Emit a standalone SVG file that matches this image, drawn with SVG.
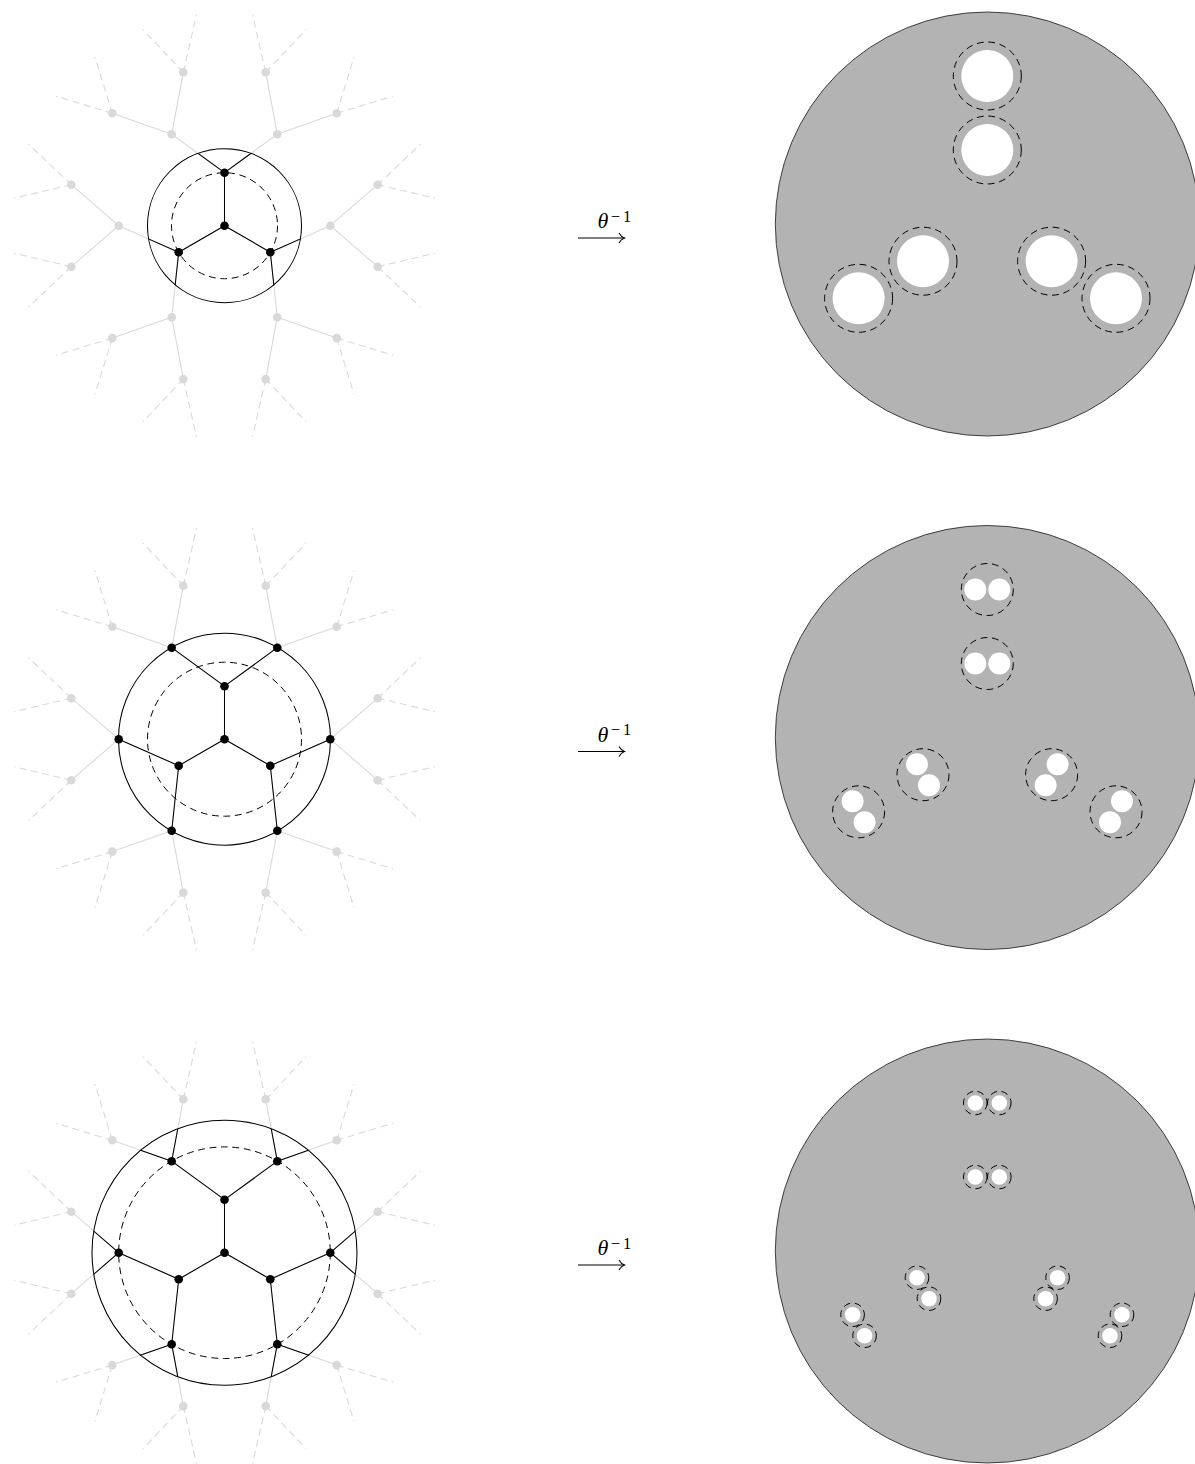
<svg xmlns="http://www.w3.org/2000/svg" width="1195" height="1464" viewBox="0 0 1195 1464">
<style>
.g{fill:none;stroke:#d9d9d9;stroke-width:1.1}
.gd{fill:none;stroke:#d9d9d9;stroke-width:1.1;stroke-dasharray:7 4.5}
.b{fill:none;stroke:#000;stroke-width:1.05}
.o{fill:none;stroke:#000;stroke-width:1.05}
.d{fill:none;stroke:#000;stroke-width:1;stroke-dasharray:6.8 4.7}
.ng{fill:#d9d9d9}
.nb{fill:#000}
.disk{fill:#b3b3b3;stroke:#000;stroke-width:.7}
.hole{fill:#fff}
.t{font-family:"Liberation Serif",serif;fill:#000}
.ar{fill:none;stroke:#000;stroke-width:1.05}
</style>
<defs>
<path id="solid" class="g" d="M0,0V-53M0,0L-45.8,26.5M0,0L45.8,26.5M0,-53L-52.8,-91.5M0,-53L52.8,-91.5M-45.8,26.5L-105.8,0M-45.8,26.5L-52.8,91.5M45.8,26.5L105.8,0M45.8,26.5L52.8,91.5M-52.8,-91.5L-112.2,-112.4M-52.8,-91.5L-41.2,-153.4M52.8,-91.5L112.2,-112.4M52.8,-91.5L41.2,-153.4M-105.8,0L-153.2,-41M-105.8,0L-153.2,41M105.8,0L153.2,-41M105.8,0L153.2,41M-52.8,91.5L-112.2,112.4M-52.8,91.5L-41.2,153.4M52.8,91.5L112.2,112.4M52.8,91.5L41.2,153.4"/>
<path id="solidb" class="b" d="M0,0V-53M0,0L-45.8,26.5M0,0L45.8,26.5M0,-53L-52.8,-91.5M0,-53L52.8,-91.5M-45.8,26.5L-105.8,0M-45.8,26.5L-52.8,91.5M45.8,26.5L105.8,0M45.8,26.5L52.8,91.5M-52.8,-91.5L-112.2,-112.4M-52.8,-91.5L-41.2,-153.4M52.8,-91.5L112.2,-112.4M52.8,-91.5L41.2,-153.4M-105.8,0L-153.2,-41M-105.8,0L-153.2,41M105.8,0L153.2,-41M105.8,0L153.2,41M-52.8,91.5L-112.2,112.4M-52.8,91.5L-41.2,153.4M52.8,91.5L112.2,112.4M52.8,91.5L41.2,153.4"/>
<path id="dash" class="gd" d="M-41.2,-153.4L-28,-211M-41.2,-153.4L-81.5,-196M-112.2,-112.4L-129.5,-168.5M-112.2,-112.4L-168.5,-129.5M-153.2,-41L-196,-81.5M-153.2,-41L-210.5,-27.5M-153.2,41L-210.5,27.5M-153.2,41L-196,81.5M-112.2,112.4L-168.5,129.5M-112.2,112.4L-129.5,168.5M-41.2,153.4L-81.5,196M-41.2,153.4L-28,211M41.2,-153.4L28,-211M41.2,-153.4L81.5,-196M112.2,-112.4L129.5,-168.5M112.2,-112.4L168.5,-129.5M153.2,-41L196,-81.5M153.2,-41L210.5,-27.5M153.2,41L210.5,27.5M153.2,41L196,81.5M112.2,112.4L168.5,129.5M112.2,112.4L129.5,168.5M41.2,153.4L81.5,196M41.2,153.4L28,211"/>
<clipPath id="c1"><circle r="77"/></clipPath>
<clipPath id="c2"><circle r="106"/></clipPath>
<clipPath id="c3"><circle r="132.5"/></clipPath>
<circle id="nd" r="4.3"/>
<marker id="tip" markerUnits="userSpaceOnUse" markerWidth="12" markerHeight="14" refX="6.5" refY="6" orient="auto" overflow="visible"><path class="ar" d="M1,1Q3,4.8 6.5,6Q3,7.2 1,11"/></marker>
</defs>

<g id="panel1" transform="translate(224.5,225.7)">
<g id="connectors1">
<use href="#dash"/><use href="#solid"/>
<use href="#solidb" clip-path="url(#c1)"/>
</g>
<circle id="outer1" class="o" r="77"/>
<circle id="inner1" class="d" r="53"/>
<g id="p1n0"><use href="#nd" class="nb"/></g>
<g id="p1a1"><use href="#nd" class="nb" y="-53"/></g>
<g id="p1a2"><use href="#nd" class="nb" x="-45.8" y="26.5"/></g>
<g id="p1a3"><use href="#nd" class="nb" x="45.8" y="26.5"/></g>
<g id="p1b1"><use href="#nd" class="ng" x="-52.8" y="-91.5"/></g>
<g id="p1b2"><use href="#nd" class="ng" x="52.8" y="-91.5"/></g>
<g id="p1b3"><use href="#nd" class="ng" x="-105.8"/></g>
<g id="p1b4"><use href="#nd" class="ng" x="105.8"/></g>
<g id="p1b5"><use href="#nd" class="ng" x="-52.8" y="91.5"/></g>
<g id="p1b6"><use href="#nd" class="ng" x="52.8" y="91.5"/></g>
<g id="p1c1"><use href="#nd" class="ng" x="-41.2" y="-153.4"/></g>
<g id="p1c2"><use href="#nd" class="ng" x="41.2" y="-153.4"/></g>
<g id="p1c3"><use href="#nd" class="ng" x="-112.2" y="-112.4"/></g>
<g id="p1c4"><use href="#nd" class="ng" x="112.2" y="-112.4"/></g>
<g id="p1c5"><use href="#nd" class="ng" x="-153.2" y="-41"/></g>
<g id="p1c6"><use href="#nd" class="ng" x="153.2" y="-41"/></g>
<g id="p1c7"><use href="#nd" class="ng" x="-153.2" y="41"/></g>
<g id="p1c8"><use href="#nd" class="ng" x="153.2" y="41"/></g>
<g id="p1c9"><use href="#nd" class="ng" x="-112.2" y="112.4"/></g>
<g id="p1c10"><use href="#nd" class="ng" x="112.2" y="112.4"/></g>
<g id="p1c11"><use href="#nd" class="ng" x="-41.2" y="153.4"/></g>
<g id="p1c12"><use href="#nd" class="ng" x="41.2" y="153.4"/></g>
</g>

<g id="panel2" transform="translate(224.5,739.2)">
<g id="connectors2">
<use href="#dash"/><use href="#solid"/>
<use href="#solidb" clip-path="url(#c2)"/>
</g>
<circle id="outer2" class="o" r="106"/>
<circle id="inner2" class="d" r="77"/>
<g id="p2n0"><use href="#nd" class="nb"/></g>
<g id="p2a1"><use href="#nd" class="nb" y="-53"/></g>
<g id="p2a2"><use href="#nd" class="nb" x="-45.8" y="26.5"/></g>
<g id="p2a3"><use href="#nd" class="nb" x="45.8" y="26.5"/></g>
<g id="p2b1"><use href="#nd" class="nb" x="-52.8" y="-91.5"/></g>
<g id="p2b2"><use href="#nd" class="nb" x="52.8" y="-91.5"/></g>
<g id="p2b3"><use href="#nd" class="nb" x="-105.8"/></g>
<g id="p2b4"><use href="#nd" class="nb" x="105.8"/></g>
<g id="p2b5"><use href="#nd" class="nb" x="-52.8" y="91.5"/></g>
<g id="p2b6"><use href="#nd" class="nb" x="52.8" y="91.5"/></g>
<g id="p2c1"><use href="#nd" class="ng" x="-41.2" y="-153.4"/></g>
<g id="p2c2"><use href="#nd" class="ng" x="41.2" y="-153.4"/></g>
<g id="p2c3"><use href="#nd" class="ng" x="-112.2" y="-112.4"/></g>
<g id="p2c4"><use href="#nd" class="ng" x="112.2" y="-112.4"/></g>
<g id="p2c5"><use href="#nd" class="ng" x="-153.2" y="-41"/></g>
<g id="p2c6"><use href="#nd" class="ng" x="153.2" y="-41"/></g>
<g id="p2c7"><use href="#nd" class="ng" x="-153.2" y="41"/></g>
<g id="p2c8"><use href="#nd" class="ng" x="153.2" y="41"/></g>
<g id="p2c9"><use href="#nd" class="ng" x="-112.2" y="112.4"/></g>
<g id="p2c10"><use href="#nd" class="ng" x="112.2" y="112.4"/></g>
<g id="p2c11"><use href="#nd" class="ng" x="-41.2" y="153.4"/></g>
<g id="p2c12"><use href="#nd" class="ng" x="41.2" y="153.4"/></g>
</g>

<g id="panel3" transform="translate(224.5,1252.7)">
<g id="connectors3">
<use href="#dash"/><use href="#solid"/>
<use href="#solidb" clip-path="url(#c3)"/>
</g>
<circle id="outer3" class="o" r="132.5"/>
<circle id="inner3" class="d" r="105.8"/>
<g id="p3n0"><use href="#nd" class="nb"/></g>
<g id="p3a1"><use href="#nd" class="nb" y="-53"/></g>
<g id="p3a2"><use href="#nd" class="nb" x="-45.8" y="26.5"/></g>
<g id="p3a3"><use href="#nd" class="nb" x="45.8" y="26.5"/></g>
<g id="p3b1"><use href="#nd" class="nb" x="-52.8" y="-91.5"/></g>
<g id="p3b2"><use href="#nd" class="nb" x="52.8" y="-91.5"/></g>
<g id="p3b3"><use href="#nd" class="nb" x="-105.8"/></g>
<g id="p3b4"><use href="#nd" class="nb" x="105.8"/></g>
<g id="p3b5"><use href="#nd" class="nb" x="-52.8" y="91.5"/></g>
<g id="p3b6"><use href="#nd" class="nb" x="52.8" y="91.5"/></g>
<g id="p3c1"><use href="#nd" class="ng" x="-41.2" y="-153.4"/></g>
<g id="p3c2"><use href="#nd" class="ng" x="41.2" y="-153.4"/></g>
<g id="p3c3"><use href="#nd" class="ng" x="-112.2" y="-112.4"/></g>
<g id="p3c4"><use href="#nd" class="ng" x="112.2" y="-112.4"/></g>
<g id="p3c5"><use href="#nd" class="ng" x="-153.2" y="-41"/></g>
<g id="p3c6"><use href="#nd" class="ng" x="153.2" y="-41"/></g>
<g id="p3c7"><use href="#nd" class="ng" x="-153.2" y="41"/></g>
<g id="p3c8"><use href="#nd" class="ng" x="153.2" y="41"/></g>
<g id="p3c9"><use href="#nd" class="ng" x="-112.2" y="112.4"/></g>
<g id="p3c10"><use href="#nd" class="ng" x="112.2" y="112.4"/></g>
<g id="p3c11"><use href="#nd" class="ng" x="-41.2" y="153.4"/></g>
<g id="p3c12"><use href="#nd" class="ng" x="41.2" y="153.4"/></g>
</g>

<g id="arrows">
<g id="arrow1"><path class="ar" marker-end="url(#tip)" d="M578,238H624.5"/><text class="t" x="597.5" y="228" font-size="22" font-style="italic">θ<tspan font-style="normal" font-size="16.5" dx="2.5" dy="-6.5" letter-spacing="3">−1</tspan></text></g>
<g id="arrow2"><path class="ar" marker-end="url(#tip)" d="M578,751.5H624.5"/><text class="t" x="597.5" y="741.5" font-size="22" font-style="italic">θ<tspan font-style="normal" font-size="16.5" dx="2.5" dy="-6.5" letter-spacing="3">−1</tspan></text></g>
<g id="arrow3"><path class="ar" marker-end="url(#tip)" d="M578,1265H624.5"/><text class="t" x="597.5" y="1255" font-size="22" font-style="italic">θ<tspan font-style="normal" font-size="16.5" dx="2.5" dy="-6.5" letter-spacing="3">−1</tspan></text></g>
</g>

<g id="disk1" transform="translate(987.3,224)">
<circle class="disk" r="212"/>
<circle class="hole" cy="-148" r="26"/><circle class="d" cy="-148" r="34"/>
<circle class="hole" cy="-74" r="26"/><circle class="d" cy="-74" r="34"/>
<circle class="hole" cx="-64.3" cy="37.2" r="26"/><circle class="d" cx="-64.3" cy="37.2" r="34"/>
<circle class="hole" cx="-128.7" cy="74.3" r="26"/><circle class="d" cx="-128.7" cy="74.3" r="34"/>
<circle class="hole" cx="64.3" cy="37.2" r="26"/><circle class="d" cx="64.3" cy="37.2" r="34"/>
<circle class="hole" cx="128.7" cy="74.3" r="26"/><circle class="d" cx="128.7" cy="74.3" r="34"/>
</g>

<g id="disk2" transform="translate(987.3,737.5)">
<circle class="disk" r="212"/>
<circle class="hole" cx="-12" cy="-148" r="11"/><circle class="hole" cx="12" cy="-148" r="11"/><circle class="d" cy="-148" r="26"/>
<circle class="hole" cx="-12" cy="-74" r="11"/><circle class="hole" cx="12" cy="-74" r="11"/><circle class="d" cy="-74" r="26"/>
<circle class="hole" cx="-70.3" cy="26.7" r="11"/><circle class="hole" cx="-58.3" cy="47.7" r="11"/><circle class="d" cx="-64.3" cy="37.2" r="26"/>
<circle class="hole" cx="-134.7" cy="63.8" r="11"/><circle class="hole" cx="-122.7" cy="84.8" r="11"/><circle class="d" cx="-128.7" cy="74.3" r="26"/>
<circle class="hole" cx="70.3" cy="26.7" r="11"/><circle class="hole" cx="58.3" cy="47.7" r="11"/><circle class="d" cx="64.3" cy="37.2" r="26"/>
<circle class="hole" cx="134.7" cy="63.8" r="11"/><circle class="hole" cx="122.7" cy="84.8" r="11"/><circle class="d" cx="128.7" cy="74.3" r="26"/>
</g>

<g id="disk3" transform="translate(987.3,1251)">
<circle class="disk" r="212"/>
<circle class="hole" cx="-12" cy="-148" r="7.8"/><circle class="d" cx="-12" cy="-148" r="11.8"/>
<circle class="hole" cx="12" cy="-148" r="7.8"/><circle class="d" cx="12" cy="-148" r="11.8"/>
<circle class="hole" cx="-12" cy="-74" r="7.8"/><circle class="d" cx="-12" cy="-74" r="11.8"/>
<circle class="hole" cx="12" cy="-74" r="7.8"/><circle class="d" cx="12" cy="-74" r="11.8"/>
<circle class="hole" cx="-70.3" cy="26.7" r="7.8"/><circle class="d" cx="-70.3" cy="26.7" r="11.8"/>
<circle class="hole" cx="-58.3" cy="47.7" r="7.8"/><circle class="d" cx="-58.3" cy="47.7" r="11.8"/>
<circle class="hole" cx="-134.7" cy="63.8" r="7.8"/><circle class="d" cx="-134.7" cy="63.8" r="11.8"/>
<circle class="hole" cx="-122.7" cy="84.8" r="7.8"/><circle class="d" cx="-122.7" cy="84.8" r="11.8"/>
<circle class="hole" cx="70.3" cy="26.7" r="7.8"/><circle class="d" cx="70.3" cy="26.7" r="11.8"/>
<circle class="hole" cx="58.3" cy="47.7" r="7.8"/><circle class="d" cx="58.3" cy="47.7" r="11.8"/>
<circle class="hole" cx="134.7" cy="63.8" r="7.8"/><circle class="d" cx="134.7" cy="63.8" r="11.8"/>
<circle class="hole" cx="122.7" cy="84.8" r="7.8"/><circle class="d" cx="122.7" cy="84.8" r="11.8"/>
</g>
</svg>
